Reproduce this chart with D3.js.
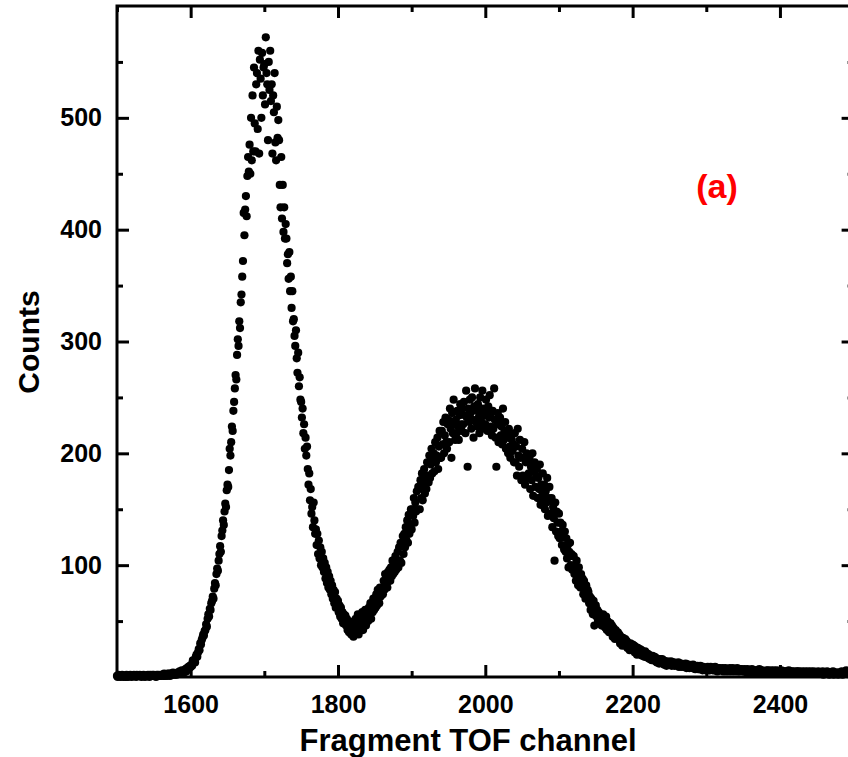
<!DOCTYPE html>
<html lang="en">
<head>
	<meta charset="utf-8">
	<title>Fragment TOF spectrum (a)</title>
	<script type="text/javascript" src="https://d3js.org/d3.v7.min.js"></script>
	<style type="text/css">
		body { margin: 0; background: #fff; }
		svg text { font-family: "Liberation Sans", Arial, sans-serif; font-weight: bold; }
	</style>
</head>
<body>
<script type="text/javascript">

	// one count per TOF channel, starting at channel 1500
	var firstChannel = 1500;
	var counts = [
		1,0,2,1,1,0,1,2,1,0, 1,1,0,2,1,0,1,1,2,1, 0,1,1,2,1,1,0,2,1,1, 1,2,1,0,1,1,2,1,0,1,
		1,1,2,1,0,2,1,1,2,1, 2,1,1,0,2,1,2,1,1,2, 1,2,2,1,3,1,2,2,1,3, 2,3,1,2,3,2,4,2,3,2,
		3,2,4,3,3,5,3,4,6,4, 5,4,6,7,5,8,7,9,8,10,
		// 1600
		9,11,10,15,13,15,13,18,20,18, 22,25,24,30,29,33,35,38,37,41,
		42,47,45,52,56,54,61,60,66,68, 72,70,79,84,82,92,97,95,104,110,
		117,112,126,131,140,136,148,155,152,167, 172,170,185,204,198,210,224,220,238,246,
		258,270,266,288,302,296,318,312,335,342, 358,372,415,395,418,430,412,448,465,452,
		476,450,500,462,520,470,545,495,470,530, 540,490,560,468,552,535,500,558,520,545,
		// 1700
		548,512,572,540,530,480,550,525,560,515, 530,468,520,505,540,478,462,510,482,498,
		480,440,420,465,410,440,398,420,392,405, 392,370,378,356,380,345,358,330,345,318,
		320,305,296,310,285,272,290,260,268,248, 246,232,240,218,226,204,214,198,206,186,
		172,182,158,168,146,152,134,156,140,128, 132,118,128,110,122,106,116,100,112,98,
		106,94,102,88,98,84,94,80,90,78, 86,74,82,70,78,66,76,62,70,64,
		// 1800
		68,58,64,54,62,52,58,48,56,50, 55,46,52,42,50,40,48,44,38,46,
		44,36,50,40,52,42,48,56,38,50, 54,44,50,58,42,56,48,60,46,54,
		60,50,62,54,66,52,64,58,70,60, 68,62,74,64,78,70,66,80,72,76,
		80,74,86,78,92,82,88,80,94,86, 96,86,98,90,104,92,100,94,108,96,
		101,112,98,116,104,120,102,118,126,110, 128,116,134,122,140,120,145,128,136,150,
		// 1900
		132,150,144,160,138,156,148,166,150,170, 168,150,176,160,182,158,172,186,164,178,
		168,192,180,174,198,178,190,204,182,195, 200,184,210,192,198,214,186,206,220,196,
		196,220,208,228,200,216,232,210,204,226, 230,210,240,222,196,236,218,248,226,212,
		230,218,238,224,212,234,244,226,220,240, 226,246,234,218,256,232,188,240,228,248,
		236,222,250,230,214,242,258,228,238,224, 244,232,218,250,236,228,256,240,222,234,
		// 2000
		226,248,238,220,242,232,252,224,236,216, 238,222,258,230,214,188,226,236,210,228,
		232,216,224,208,240,212,220,228,204,218, 214,200,222,206,196,216,212,202,208,192,
		218,192,206,180,222,198,188,212,196,176, 204,180,196,210,172,192,200,178,194,182,
		196,168,188,176,200,162,184,192,170,180, 186,160,178,168,190,154,172,162,182,158,
		172,150,166,156,178,144,160,170,146,158, 160,134,152,142,104,156,130,148,138,126,
		// 2100
		146,124,138,130,118,136,126,114,130,112, 124,106,118,98,112,120,100,110,96,108,
		108,92,100,86,104,94,82,98,88,80, 92,80,88,74,86,78,70,82,72,78,
		76,66,72,60,70,64,56,68,46,62, 64,54,60,50,58,48,56,52,46,54,
		56,46,52,44,54,42,50,46,40,48, 48,40,46,36,44,40,34,42,38,36,
		40,34,38,30,36,33,28,35,31,30, 34,28,32,26,30,28,24,30,27,26,
		// 2200
		29,24,28,22,27,24,20,26,23,22, 25,20,24,19,22,20,18,23,19,20,
		21,17,20,16,19,17,15,19,16,17, 18,14,17,13,16,15,12,16,13,15,
		16,12,15,11,14,13,10,14,12,13, 13,11,14,10,13,11,13,10,12,11,
		12,10,13,9,12,10,12,9,11,10, 11,9,12,8,11,9,11,8,10,9,
		10,8,11,8,10,7,9,8,10,7, 9,7,10,7,9,6,9,7,8,6,
		// 2300
		8,7,9,6,8,6,9,7,8,6, 8,6,9,7,7,5,8,6,8,7,
		7,6,8,5,7,6,8,5,7,6, 7,5,8,6,7,5,8,6,6,5,
		7,6,8,5,6,5,7,6,7,5, 6,5,7,5,6,4,7,5,6,5,
		6,4,7,5,6,4,6,5,6,4, 6,5,7,4,6,5,6,4,5,4,
		5,4,6,4,6,3,5,4,6,4, 5,4,6,3,5,4,6,4,5,4,
		// 2400
		5,3,6,4,5,3,5,4,5,3, 5,4,6,3,4,3,5,4,5,3,
		4,3,5,4,5,3,5,3,4,3, 5,3,4,3,5,4,4,3,5,3,
		4,3,5,3,4,3,5,3,4,3, 4,3,5,3,4,3,4,3,5,2,
		4,3,4,3,5,3,4,2,4,3, 4,3,5,2,4,3,4,3,4,2,
		4,3,4,3,5,2,4,3,4,3, 6,3,4,3,5,2,4,3,4,3,
		4
	];

	var xMajor = [1600, 1800, 2000, 2200, 2400];
	var xMinor = [1500, 1700, 1900, 2100, 2300, 2500];
	var yMajor = [100, 200, 300, 400, 500];
	var yMinor = [50, 150, 250, 350, 450, 550];

	var width = 848, height = 757;
	var plotLeft = 117, plotRight = 853.6, plotTop = 6, plotBottom = 677;

	var data = counts.map(function(c, i) {
		return { channel: firstChannel + i, count: c };
	});

	var x = d3.scaleLinear().domain([1500, 2500]).range([plotLeft, plotRight]);
	var y = d3.scaleLinear().domain([0, 600]).range([plotBottom, plotTop]);

	var svg = d3.select("body")
		.append("svg")
		.attr("width", width)
		.attr("height", height);

	// points
	svg.append("g")
		.selectAll("circle")
		.data(data)
		.enter()
		.append("circle")
		.attr("cx", function(d) { return x(d.channel); })
		.attr("cy", function(d) { return y(d.count); })
		.attr("r", 4.1)
		.attr("fill", "#000");

	function styleAxis(g) {
		g.select(".domain").remove();
		g.selectAll("line").attr("stroke", "#000").attr("stroke-width", 3);
		g.selectAll("text").attr("fill", "#000").style("font-size", "25px");
	}

	// bottom
	svg.append("g")
		.attr("transform", "translate(0," + plotBottom + ")")
		.call(d3.axisBottom(x).tickValues(xMajor).tickSize(-12).tickPadding(18).tickFormat(d3.format("d")))
		.call(styleAxis);
	svg.append("g")
		.attr("transform", "translate(0," + plotBottom + ")")
		.call(d3.axisBottom(x).tickValues(xMinor).tickSize(-6).tickFormat(""))
		.call(styleAxis);
	// top
	svg.append("g")
		.attr("transform", "translate(0," + plotTop + ")")
		.call(d3.axisTop(x).tickValues(xMajor).tickSize(-12).tickFormat(""))
		.call(styleAxis);
	svg.append("g")
		.attr("transform", "translate(0," + plotTop + ")")
		.call(d3.axisTop(x).tickValues(xMinor).tickSize(-6).tickFormat(""))
		.call(styleAxis);
	// left
	svg.append("g")
		.attr("transform", "translate(" + plotLeft + ",0)")
		.call(d3.axisLeft(y).tickValues(yMajor).tickSize(-12).tickPadding(15))
		.call(styleAxis);
	svg.append("g")
		.attr("transform", "translate(" + plotLeft + ",0)")
		.call(d3.axisLeft(y).tickValues(yMinor).tickSize(-6).tickFormat(""))
		.call(styleAxis);
	// right
	svg.append("g")
		.attr("transform", "translate(" + plotRight + ",0)")
		.call(d3.axisRight(y).tickValues(yMajor).tickSize(-12).tickFormat(""))
		.call(styleAxis);
	svg.append("g")
		.attr("transform", "translate(" + plotRight + ",0)")
		.call(d3.axisRight(y).tickValues(yMinor).tickSize(-6).tickFormat(""))
		.call(styleAxis);

	// frame
	svg.append("rect")
		.attr("x", plotLeft).attr("y", plotTop)
		.attr("width", plotRight - plotLeft).attr("height", plotBottom - plotTop)
		.attr("fill", "none")
		.attr("stroke", "#000")
		.attr("stroke-width", 3);

	svg.append("text")
		.attr("x", 468).attr("y", 751)
		.attr("text-anchor", "middle")
		.style("font-size", "31px")
		.text("Fragment TOF channel");

	svg.append("text")
		.attr("transform", "translate(39,342) rotate(-90)")
		.attr("text-anchor", "middle")
		.style("font-size", "30px")
		.text("Counts");

	svg.append("text")
		.attr("x", 717).attr("y", 198)
		.attr("text-anchor", "middle")
		.attr("fill", "#ff0000")
		.style("font-size", "34px")
		.text("(a)");

</script>
</body>
</html>
